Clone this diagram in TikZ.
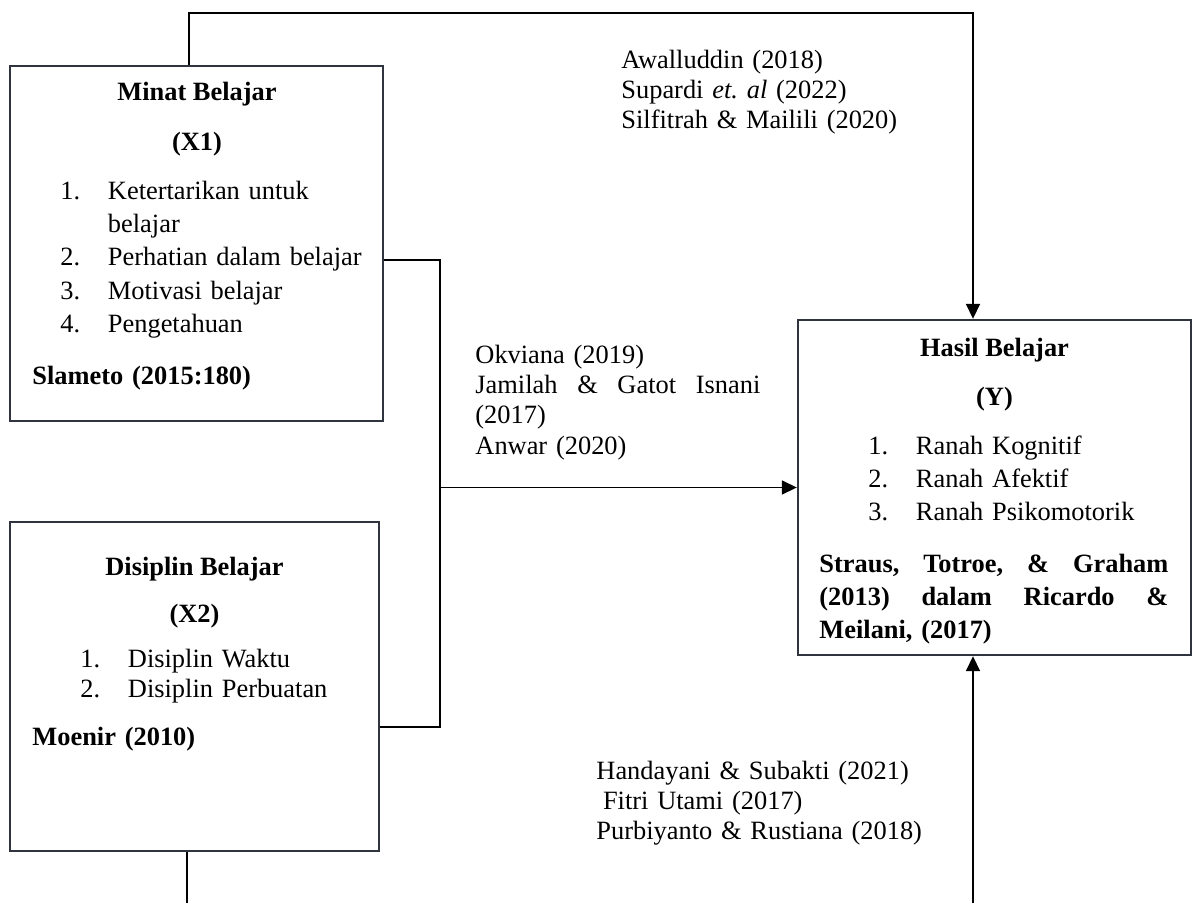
\documentclass[tikz,border=0pt]{standalone}
\usepackage{fontspec}
\setmainfont{Liberation Serif}
\usetikzlibrary{arrows.meta,positioning}
\definecolor{garisbox}{RGB}{47,52,62}
\frenchspacing
\newcommand\butir[2]{\makebox[21.6pt][l]{#1}#2}
\newcommand\rata[2]{\makebox[#1][s]{\spaceskip=0pt\xspaceskip=0pt\relax #2}}

\begin{document}
\begin{tikzpicture}[x=0.4545pt, y=-0.4545pt,
    kotak/.style = {draw=garisbox, line width=1.1pt, inner sep=0pt},
    judul/.style = {font=\fontsize{12}{14}\selectfont\bfseries, anchor=base, inner sep=0pt},
    isi/.style = {anchor=base west, inner sep=0pt, text width=#1},
    garis/.style = {line width=0.6pt},
    panah/.style = {garis, -{Triangle[length=6.8pt,width=6.4pt]}}]
    \useasboundingbox (0,0) rectangle (1195,903);

    % kotak variabel
    \node[kotak, minimum width=373*0.4545pt, minimum height=355*0.4545pt] (x1) at (196.5,243.5) {};
    \node[kotak, minimum width=369*0.4545pt, minimum height=329*0.4545pt] (x2) at (194.5,686.5) {};
    \node[kotak, minimum width=393*0.4545pt, minimum height=335*0.4545pt] (y) at (994.5,487.5) {};

    % isi X1
    \node[judul] (judulx1) at (197,100) {Minat Belajar};
    \node[judul] (kodex1) at (197,150) {(X1)};
    \node[isi=150pt, font=\fontsize{12}{15.2}\selectfont] (indx1) at (60,199)
      {\butir{1.}{Ketertarikan untuk}\\\hspace*{21.6pt}belajar\\\butir{2.}{Perhatian dalam belajar}\\
       \butir{3.}{Motivasi belajar}\\\butir{4.}{Pengetahuan}};
    \node[isi=150pt, font=\fontsize{12}{14}\selectfont\bfseries] (refx1) at (32,384) {Slameto (2015:180)};

    % isi X2
    \node[judul] (judulx2) at (194.5,575) {Disiplin Belajar};
    \node[judul] (kodex2) at (194.5,622) {(X2)};
    \node[isi=150pt, font=\fontsize{12}{13.7}\selectfont] (indx2) at (80,667)
      {\butir{1.}{Disiplin Waktu}\\\butir{2.}{Disiplin Perbuatan}};
    \node[isi=150pt, font=\fontsize{12}{14}\selectfont\bfseries] (refx2) at (32,745) {Moenir (2010)};

    % isi Y
    \node[judul] (judully) at (994.5,356) {Hasil Belajar};
    \node[judul] (kodey) at (994.5,405) {(Y)};
    \node[isi=150pt, font=\fontsize{12}{15}\selectfont] (indy) at (868,454)
      {\butir{1.}{Ranah Kognitif}\\\butir{2.}{Ranah Afektif}\\\butir{3.}{Ranah Psikomotorik}};
    \node[isi=158.6pt, font=\fontsize{12}{15.2}\selectfont\bfseries] (refy) at (819,572)
      {\rata{158.6pt}{Straus, Totroe, \& Graham}\\\rata{158.6pt}{(2013) dalam Ricardo \&}\\Meilani, (2017)};

    % kutipan penelitian terdahulu
    \node[isi=140pt, font=\fontsize{12}{13.8}\selectfont] (kutipatas) at (621,68)
      {Awalluddin (2018)\\Supardi \textit{et.\ al} (2022)\\Silfitrah \& Mailili (2020)};
    \node[isi=129.5pt, font=\fontsize{12}{13.8}\selectfont] (kutiptengah) at (475,363)
      {Okviana (2019)\\\rata{129.5pt}{Jamilah \& Gatot Isnani}\\(2017)\\Anwar (2020)};
    \node[isi=160pt, font=\fontsize{12}{13.8}\selectfont] (kutipbawah) at (596,779)
      {Handayani \& Subakti (2021)\\\hspace*{3pt}Fitri Utami (2017)\\Purbiyanto \& Rustiana (2018)};

    % titik belok
    \coordinate (atas1) at (189,13);
    \coordinate (atas2) at (973,13);
    \coordinate (tgh1) at (440,260);
    \coordinate (tgh2) at (440,727);
    \coordinate (tgh3) at (tgh1 |- y.west);
    \coordinate (bwh1) at (187,903);
    \coordinate (bwh2) at (973,903);

    % garis hubung
    \draw[panah] (x1.north -| atas1) -- (atas1) -- (atas2) -- (y.north -| atas2);
    \draw[garis] (x1.east |- tgh1) -- (tgh1) -- (tgh2) -- (x2.east |- tgh2);
    \draw[panah] (tgh3) -- (y.west);
    \draw[garis] (x2.south -| bwh1) -- (bwh1);
    \draw[panah] (bwh2) -- (y.south -| bwh2);
  \end{tikzpicture}
\end{document}
